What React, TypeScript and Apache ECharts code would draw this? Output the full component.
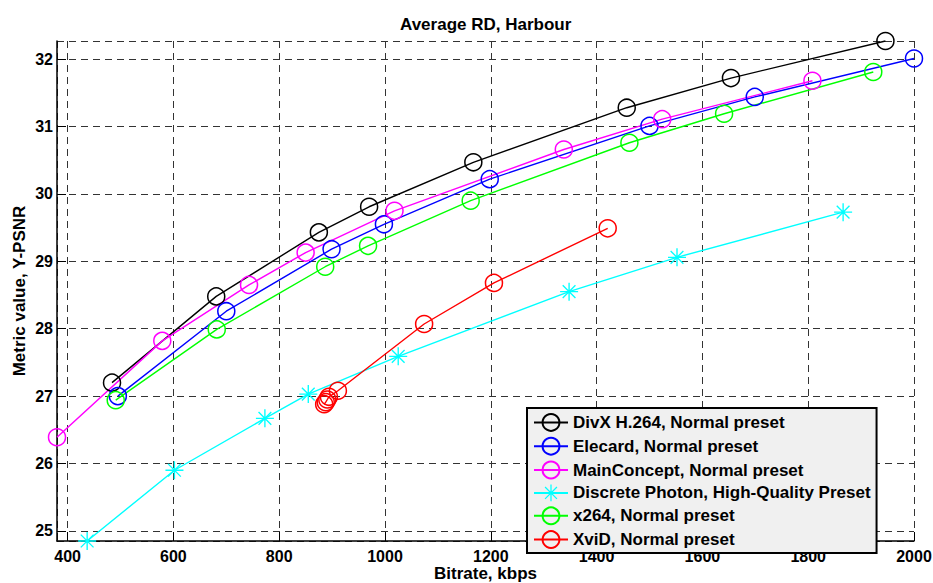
import React, { useEffect, useRef } from "react";
import * as echarts from "echarts";

const seriesNames = [
  "DivX H.264, Normal preset",
  "Elecard, Normal preset",
  "MainConcept, Normal preset",
  "Discrete Photon, High-Quality Preset",
  "x264, Normal preset",
  "XviD, Normal preset",
];
const seriesColors = ["#000000", "#0000ff", "#ff00ff", "#00ffff", "#00ff00", "#ff0000"];

const divxX = [484, 681, 875, 970, 1167, 1457, 1654, 1946];
const divxY = [27.2, 28.48, 29.43, 29.81, 30.47, 31.28, 31.72, 32.27];

const elecardX = [495, 700, 899, 998, 1198, 1500, 1699, 2000];
const elecardY = [27.0, 28.26, 29.18, 29.55, 30.22, 31.01, 31.44, 32.01];

const mainConceptX = [380, 579, 743, 850, 1018, 1338, 1524, 1808];
const mainConceptY = [26.39, 27.82, 28.65, 29.13, 29.75, 30.66, 31.11, 31.68];

const discretePhotonX = [437, 602, 773, 855, 1025, 1348, 1552, 1866];
const discretePhotonY = [24.85, 25.9, 26.67, 27.03, 27.59, 28.55, 29.06, 29.73];

const x264X = [491, 682, 887, 968, 1162, 1462, 1641, 1923];
const x264Y = [26.94, 27.99, 28.92, 29.23, 29.9, 30.76, 31.19, 31.81];

const xvidX = [885, 888, 891, 894, 911, 1074, 1206, 1421];
const xvidY = [26.88, 26.91, 26.95, 26.99, 27.08, 28.07, 28.68, 29.49];

const allX = [divxX, elecardX, mainConceptX, discretePhotonX, x264X, xvidX];
const allY = [divxY, elecardY, mainConceptY, discretePhotonY, x264Y, xvidY];

const FONT = "'Liberation Sans', Arial, Helvetica, sans-serif";

const ASTERISK =
  "path://M0 9.25H20V10.75H0Z M9.25 0H10.75V20H9.25Z " +
  "M3.46 2.4L17.6 16.54L16.54 17.6L2.4 3.46Z " +
  "M16.54 2.4L17.6 3.46L3.46 17.6L2.4 16.54Z";

export default function App() {
  const ref = useRef<HTMLDivElement>(null);

  useEffect(() => {
    if (!ref.current) return;
    const chart = echarts.init(ref.current, undefined, { renderer: "svg" });

    const series = seriesNames.map((name, i) => {
      const isStar = i === 3;
      return {
        name,
        type: "line",
        data: allX[i].map((x, k) => [x, allY[i][k]]),
        symbol: isStar ? ASTERISK : "circle",
        symbolSize: isStar ? 18 : 17,
        showAllSymbol: true,
        clip: false,
        lineStyle: { color: seriesColors[i], width: 1.4 },
        itemStyle: isStar
          ? { color: seriesColors[i], borderWidth: 0 }
          : { color: "rgba(0,0,0,0)", borderColor: seriesColors[i], borderWidth: 1.5 },
        emphasis: { disabled: true },
      };
    });

    chart.setOption({
      animation: false,
      backgroundColor: "#ffffff",
      title: {
        text: "Average RD, Harbour",
        left: 395,
        top: 11,
        textStyle: { fontFamily: FONT, fontWeight: "bold", fontSize: 17, color: "#000" },
      },
      grid: { left: 57, right: 19, top: 41, bottom: 42, containLabel: false, outerBoundsMode: "none" },
      legend: {
        orient: "vertical",
        left: 527,
        top: 408,
        width: 350,
        padding: [5, 6, 4, 6],
        itemWidth: 34,
        itemHeight: 21,
        itemGap: 5,
        backgroundColor: "#f0f0f0",
        borderColor: "#000",
        borderWidth: 2,
        borderRadius: 0,
        textStyle: { fontFamily: FONT, fontWeight: "bold", fontSize: 17, color: "#000", padding: [0, 0, 0, 0] },
        data: seriesNames,
      },
      xAxis: {
        type: "value",
        min: 380,
        max: 2000,
        minInterval: 200,
        maxInterval: 200,
        name: "Bitrate, kbps",
        nameLocation: "middle",
        nameGap: 24,
        nameMoveOverlap: false,
        nameTextStyle: { fontFamily: FONT, fontWeight: "bold", fontSize: 17, color: "#000" },
        axisLine: { show: true, lineStyle: { color: "#000", width: 1.5 } },
        axisTick: { show: true, inside: true, length: 9, lineStyle: { color: "#000", width: 1 } },
        axisLabel: {
          showMinLabel: false,
          fontFamily: FONT,
          fontWeight: "bold",
          fontSize: 16,
          color: "#000",
          margin: 7,
          formatter: (v: number) => String(v),
        },
        splitLine: { show: true, lineStyle: { color: "#333", width: 1, type: [7, 5] } },
      },
      yAxis: {
        type: "value",
        min: 24.85,
        max: 32.27,
        minInterval: 1,
        maxInterval: 1,
        name: "Metric value, Y-PSNR",
        nameLocation: "middle",
        nameRotate: 90,
        nameGap: 29,
        nameMoveOverlap: false,
        nameTextStyle: { fontFamily: FONT, fontWeight: "bold", fontSize: 17, color: "#000" },
        axisLine: { show: true, lineStyle: { color: "#000", width: 1.5 } },
        axisTick: { show: true, inside: true, length: 9, lineStyle: { color: "#000", width: 1 } },
        axisLabel: {
          showMinLabel: false,
          showMaxLabel: false,
          fontFamily: FONT,
          fontWeight: "bold",
          fontSize: 16,
          color: "#000",
          margin: 4,
          formatter: (v: number) => String(v),
        },
        splitLine: { show: true, lineStyle: { color: "#333", width: 1, type: [7, 5] } },
      },
      series,
    });

    return () => chart.dispose();
  }, []);

  return <div ref={ref} style={{ width: 933, height: 583, position: "absolute", left: 0, top: 0 }} />;
}
